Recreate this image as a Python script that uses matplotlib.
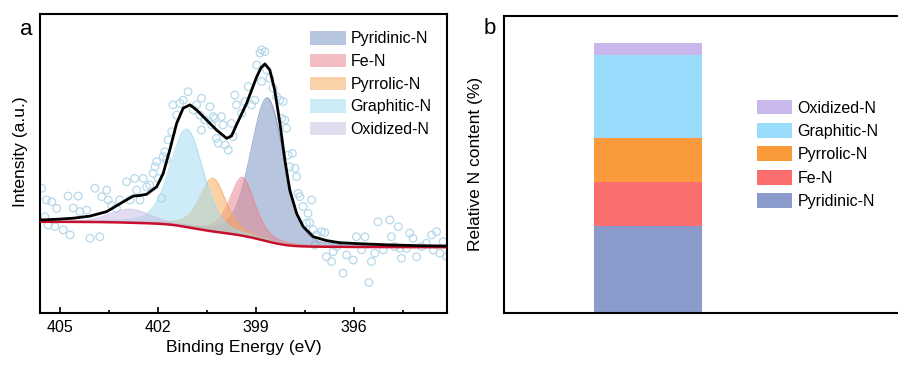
import numpy as np
import matplotlib
matplotlib.use("Agg")
from matplotlib import pyplot as plt
from matplotlib.ticker import MultipleLocator

plt.rcParams['font.family'] = ['Liberation Sans', 'DejaVu Sans']

# ---- panel a: N 1s spectrum ----
# raw data points (binding energy, intensity a.u.)
raw_be = [405.56, 405.41, 405.25, 405.10, 405.46, 405.36, 405.15, 404.90, 404.75, 404.59,
          404.44, 404.69, 404.39, 404.18, 404.08, 403.93, 403.78, 403.72, 403.57, 403.52,
          403.42, 403.27, 403.17, 402.96, 402.86, 402.71, 402.65, 402.55, 402.45, 402.35,
          402.25, 402.15, 402.09, 402.04, 401.99, 401.89, 401.84, 401.79, 401.74, 401.69,
          401.58, 401.54, 401.43, 401.33, 401.23, 401.08, 400.92, 400.82, 400.72, 400.67,
          400.57, 400.41, 400.36, 400.26, 400.21, 400.06, 400.01, 399.95, 399.85, 399.75,
          399.60, 399.65, 400.67, 400.31, 400.16, 399.70, 399.44, 399.34, 399.24, 399.14,
          399.04, 398.98, 398.88, 398.83, 398.73, 398.83, 398.68, 398.58, 398.48, 398.37,
          398.27, 398.22, 398.12, 398.07, 398.02, 397.97, 397.81, 397.76, 397.66, 397.56,
          397.41, 397.30, 397.46, 397.25, 397.15, 397.00, 396.90, 397.20, 396.85, 396.64,
          396.54, 396.69, 396.34, 396.23, 396.03, 395.93, 395.77, 395.67, 395.55, 395.47,
          395.37, 395.27, 395.11, 394.91, 394.86, 394.76, 394.65, 394.60, 394.55, 394.40,
          394.30, 394.20, 394.09, 393.94, 393.79, 393.63, 393.58, 393.48, 393.38, 393.28,
          393.17, 397.71, 397.36, 398.17, 397.89]
raw_int = [41.7, 37.8, 37.2, 35.0, 32.2, 29.4, 28.9, 27.8, 39.1, 35.1,
           39.1, 26.1, 33.9, 34.4, 25.0, 41.7, 25.5, 38.9, 41.1, 37.8,
           36.1, 35.0, 37.8, 43.9, 37.8, 45.0, 41.1, 37.8, 45.0, 42.2,
           42.8, 46.7, 48.9, 50.6, 45.0, 38.4, 52.3, 53.9, 51.2, 57.9,
           60.6, 69.6, 66.2, 70.1, 71.2, 74.0, 67.9, 69.6, 66.2, 61.2,
           64.5, 69.0, 62.9, 65.1, 58.4, 65.7, 62.9, 56.2, 54.5, 63.4,
           69.6, 72.9, 71.8, 65.7, 56.8, 59.0, 66.8, 70.7, 75.7, 69.6,
           71.2, 82.9, 86.9, 88.0, 87.4, 77.4, 81.3, 78.5, 75.2, 72.3,
           71.2, 65.1, 64.5, 61.8, 52.8, 48.9, 48.4, 45.6, 38.9, 35.6,
           33.3, 37.8, 30.0, 27.8, 26.1, 27.2, 26.9, 22.7, 18.8, 20.5,
           22.2, 17.2, 13.3, 19.4, 17.7, 25.5, 21.1, 25.5, 10.2, 17.2,
           20.0, 30.5, 21.1, 31.1, 25.5, 22.2, 28.9, 21.6, 18.3, 21.6,
           26.7, 25.0, 18.8, 22.2, 23.3, 26.1, 21.1, 27.2, 20.0, 23.8,
           18.8, 40.0, 30.2, 70.7, 53.4]

# fitted envelope
fit_be = [405.61, 405.00, 404.59, 404.08, 403.57, 403.06, 402.76, 402.55, 402.35, 402.04,
          401.84, 401.64, 401.43, 401.23, 401.02, 400.82, 400.51, 400.21, 399.90, 399.75,
          399.60, 399.29, 398.98, 398.85, 398.73, 398.58, 398.43, 398.27, 398.12, 397.97,
          397.76, 397.56, 397.25, 396.84, 396.44, 395.90, 395.00, 394.00, 393.17]
fit_int = [31.1, 31.4, 31.7, 32.4, 33.9, 37.2, 39.1, 39.3, 39.7, 42.2,
           46.7, 54.5, 63.4, 68.5, 69.6, 67.9, 64.5, 61.2, 58.4, 59.2,
           62.9, 70.1, 79.0, 82.0, 83.3, 81.3, 74.6, 63.4, 51.2, 41.1,
           33.3, 28.9, 25.5, 24.2, 23.5, 23.2, 22.8, 22.5, 22.4]

# fitted components: center (eV), height, fwhm (eV), lorentz fraction
comp_names = ['Pyridinic-N', 'Fe-N', 'Pyrrolic-N', 'Graphitic-N', 'Oxidized-N']
comp_center = [398.65, 399.42, 400.32, 401.12, 402.85]
comp_height = [48.0, 19.5, 17.8, 32.8, 4.5]
comp_fwhm = [1.2, 0.9, 0.95, 1.2, 1.5]
comp_eta = [0.25, 0.5, 0.5, 0.3, 0.3]
comp_colors = ['#7890c0', '#e7848f', '#f5a95a', '#9fdcf0', '#c9bde6']

bg_low = 22.0
bg_high = 30.5

# ---- panel b: relative N content ----
content_names = ['Pyridinic-N', 'Fe-N', 'Pyrrolic-N', 'Graphitic-N', 'Oxidized-N']
content_vals = [32.3, 16.1, 16.5, 30.9, 4.2]
content_colors = ['#8a9bcb', '#fc6e6e', '#fb9a3a', '#99dcfb', '#c9b8ec']


def pvoigt(x, c, h, w, eta):
    g = np.exp(-4 * np.log(2) * ((x - c) / w) ** 2)
    l = 1.0 / (1.0 + ((x - c) / (w / 2)) ** 2)
    return h * ((1 - eta) * g + eta * l)


fig = plt.figure(figsize=(8.98, 3.65), dpi=100)
ax1 = fig.add_axes([0.0445, 0.1425, 0.4529, 0.8192])
ax2 = fig.add_axes([0.5616, 0.1425, 0.4400, 0.8145])

x = np.linspace(393.17, 405.61, 800)
comps = [pvoigt(x, c, h, w, e) for c, h, w, e in
         zip(comp_center, comp_height, comp_fwhm, comp_eta)]
total = np.sum(comps, axis=0)
cum = np.cumsum(total)
bg = bg_low + (bg_high - bg_low) * cum / cum[-1]

ax1.scatter(raw_be, raw_int, s=30, facecolors='none', edgecolors='#b5d9ea',
            linewidths=0.9, zorder=1)
for yc, name, col in zip(comps, comp_names, comp_colors):
    ax1.fill_between(x, bg, bg + yc, color=col, alpha=0.52, lw=0, label=name, zorder=2)
    ax1.plot(x, bg + yc, color=col, lw=0.8, alpha=0.7, zorder=2)
ax1.plot(x, bg, color='#c8102e', lw=1.8, zorder=3)
ax1.plot(fit_be, fit_int, color='black', lw=2.0, zorder=4)

ax1.set_xlim(405.61, 393.17)
ax1.set_ylim(0, 100)
ax1.set_yticks([])
ax1.xaxis.set_major_locator(MultipleLocator(3))
ax1.xaxis.set_minor_locator(MultipleLocator(1.5))
ax1.tick_params(axis='x', which='major', direction='in', length=4, width=1.2,
                labelsize=11.5, pad=5)
ax1.tick_params(axis='x', which='minor', direction='in', length=2.5, width=1.2)
for s in ax1.spines.values():
    s.set_linewidth(1.5)
ax1.set_xlabel('Binding Energy (eV)', fontsize=12.5, labelpad=4)
ax1.set_ylabel('Intensity (a.u.)', fontsize=12.5)
ax1.yaxis.set_label_coords(-0.03, 0.54)
ax1.legend(loc='upper left', bbox_to_anchor=(0.664, 0.942), frameon=False,
           fontsize=11.5, handlelength=2.25, handleheight=0.9, handletextpad=0.3,
           labelspacing=0.47, borderpad=0, borderaxespad=0)

bottom = 0
for v, name, col in zip(content_vals, content_names, content_colors):
    ax2.bar(0, v, width=1.0, bottom=bottom, color=col, edgecolor='none', label=name)
    bottom += v
ax2.set_xlim(-1.338, 2.342)
ax2.set_ylim(0, 110.2)
ax2.set_xticks([])
ax2.set_yticks([])
for s in ax2.spines.values():
    s.set_linewidth(1.5)
ax2.set_ylabel('Relative N content (%)', fontsize=12.5)
ax2.yaxis.set_label_coords(-0.054, 0.5)
h2, l2 = ax2.get_legend_handles_labels()
ax2.legend(h2[::-1], l2[::-1], loc='upper left', bbox_to_anchor=(0.8426, 0.727),
           bbox_transform=fig.transFigure, frameon=False, fontsize=11.5,
           handlelength=2.2, handleheight=1.05, handletextpad=0.35,
           labelspacing=0.47, borderpad=0, borderaxespad=0)

fig.text(0.0297, 0.92, 'a', fontsize=16, ha='center', va='center')
fig.text(0.5457, 0.923, 'b', fontsize=16, ha='center', va='center')

fig.savefig('out.png', dpi=100)
